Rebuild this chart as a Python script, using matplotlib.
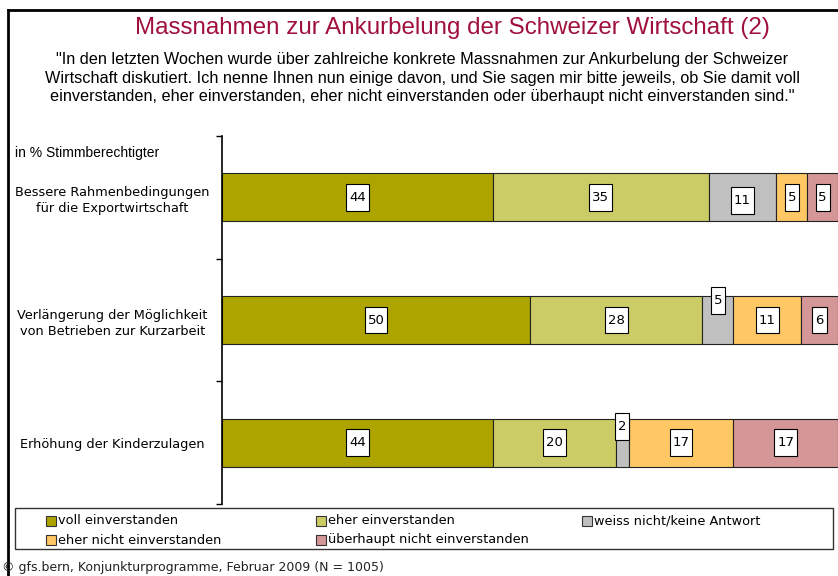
import matplotlib.pyplot as plt
from matplotlib.lines import Line2D
from matplotlib.patches import Rectangle

# data
categories = [
    "Bessere Rahmenbedingungen\nfür die Exportwirtschaft",
    "Verlängerung der Möglichkeit\nvon Betrieben zur Kurzarbeit",
    "Erhöhung der Kinderzulagen",
]
series_names = [
    "voll einverstanden",
    "eher einverstanden",
    "weiss nicht/keine Antwort",
    "eher nicht einverstanden",
    "überhaupt nicht einverstanden",
]
values = [
    [44, 50, 44],
    [35, 28, 20],
    [11, 5, 2],
    [5, 11, 17],
    [5, 6, 17],
]
colors = ["#ADA400", "#CCCC66", "#C0C0C0", "#FFC864", "#D49696"]

# labels of small segments sit a bit off the bar centre (in axis units)
label_shift = {(2, 0): -0.025, (2, 1): 0.16, (2, 2): 0.13}

arial = "Liberation Sans"

fig = plt.figure(figsize=(8.38, 5.76), dpi=100)
ax = fig.add_axes([222 / 838, 1 - 504 / 576, 616 / 838, 368 / 576])

ypos = list(range(len(categories)))
left = [0, 0, 0]
for i, name in enumerate(series_names):
    ax.barh(ypos, values[i], left=left, height=0.39, color=colors[i],
            edgecolor="#222222", linewidth=0.8, label=name)
    for j, v in enumerate(values[i]):
        x = left[j] + v / 2
        y = ypos[j] - label_shift.get((i, j), 0)
        w = 2.3 if v < 10 else 3.7
        h = 0.22
        ax.add_patch(Rectangle((x - w / 2, y - h / 2), w, h, facecolor="white",
                               edgecolor="black", linewidth=0.8, zorder=3))
        ax.text(x, y, str(v), ha="center", va="center", fontsize=9.5,
                color="black", zorder=4)
    left = [a + b for a, b in zip(left, values[i])]

ax.set_xlim(0, 100)
ax.set_ylim(len(categories) - 0.5, -0.5)
ax.set_yticks(ypos)
ax.set_yticklabels(categories, fontsize=9.3, ha="center", linespacing=1.35)
ax.tick_params(axis="y", length=0, pad=79)
ax.set_yticks([-0.5, 0.5, 1.5, 2.5], minor=True)
ax.tick_params(axis="y", which="minor", length=4, width=1, direction="out")
ax.set_xticks([])
for s in ["top", "right", "bottom"]:
    ax.spines[s].set_visible(False)
ax.spines["left"].set_linewidth(1.2)

# titles
fig.text(452 / 838, 1 - 28 / 576, "Massnahmen zur Ankurbelung der Schweizer Wirtschaft (2)",
         ha="center", va="center", fontsize=17.4, color="#A0103C", family=arial)
fig.text(422 / 838, 1 - 78 / 576,
         "\"In den letzten Wochen wurde über zahlreiche konkrete Massnahmen zur Ankurbelung der Schweizer\n"
         "Wirtschaft diskutiert. Ich nenne Ihnen nun einige davon, und Sie sagen mir bitte jeweils, ob Sie damit voll\n"
         "einverstanden, eher einverstanden, eher nicht einverstanden oder überhaupt nicht einverstanden sind.\"",
         ha="center", va="center", fontsize=11.7, linespacing=1.28, family=arial)
fig.text(15 / 838, 1 - 153 / 576, "in % Stimmberechtigter", ha="left", va="center",
         fontsize=10, family=arial)
fig.text(2 / 838, 1 - 568 / 576, "© gfs.bern, Konjunkturprogramme, Februar 2009 (N = 1005)",
         ha="left", va="center", fontsize=9, color="#222222")

# legend box, row-major like the original
fig.add_artist(Rectangle((15 / 838, 1 - 549 / 576), 818 / 838, 41 / 576, fill=False,
                         edgecolor="#333333", linewidth=1.0, transform=fig.transFigure))
col_x = [46, 316, 582]
row_y = [521, 540]
for k, name in enumerate(series_names):
    cx = col_x[k % 3]
    cy = row_y[k // 3]
    fig.add_artist(Rectangle((cx / 838, 1 - (cy + 5) / 576), 10 / 838, 10 / 576,
                             facecolor=colors[k], edgecolor="#333333", linewidth=0.8,
                             transform=fig.transFigure))
    fig.text((cx + 12) / 838, 1 - cy / 576, name, ha="left", va="center", fontsize=9.3)

# outer frame (left and top)
fig.add_artist(Line2D([8 / 838, 8 / 838], [0, 1 - 10 / 576], color="black", lw=2,
                      transform=fig.transFigure))
fig.add_artist(Line2D([8 / 838, 1], [1 - 10 / 576, 1 - 10 / 576], color="black", lw=2,
                      transform=fig.transFigure))

fig.savefig("out.png", dpi=100)
